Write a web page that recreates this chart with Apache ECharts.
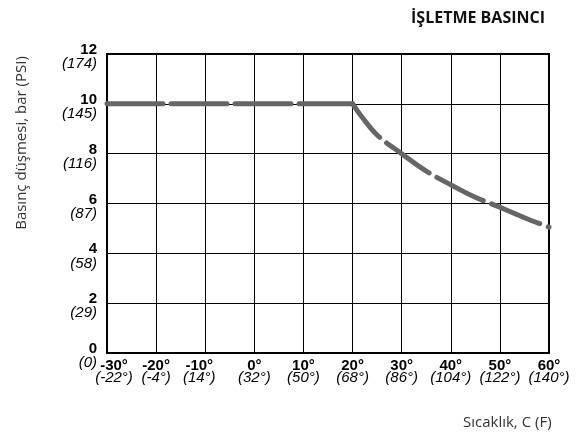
<!DOCTYPE html>
<html>
<head>
<meta charset="utf-8">
<script src="https://cdn.jsdelivr.net/npm/echarts@6/dist/echarts.min.js"></script>
<style>html,body{margin:0;padding:0;background:#fff}#c{width:587px;height:437px}</style>
</head>
<body>
<div id="c"></div>
<script>
var titleText = 'İŞLETME BASINCI';
var yAxisName = 'Basınç düşmesi, bar (PSI)';
var xAxisName = 'Sıcaklık, C (F)';
var xTicksC = [-30, -20, -10, 0, 10, 20, 30, 40, 50, 60];
var xTicksF = ['(-22°)', '(-4°)', '(14°)', '(32°)', '(50°)', '(68°)', '(86°)', '(104°)', '(122°)', '(140°)'];
var yTicksBar = [0, 2, 4, 6, 8, 10, 12];
var yTicksPsi = ['(0)', '(29)', '(58)', '(87)', '(116)', '(145)', '(174)'];
var flatTemps = [-30, 20];
var flatValues = [10, 10];
var curveTemps = [20, 22, 25, 30, 35, 40, 45, 50, 55, 60];
var curveValues = [10, 9.45, 8.75, 8.0, 7.3, 6.75, 6.25, 5.85, 5.43, 5.05];

function pairs(xs, ys) { return xs.map(function (x, i) { return [x, ys[i]]; }); }

var chart = echarts.init(document.getElementById('c'), null, {renderer: 'canvas'});
var tickFont = '"Liberation Sans", Arial, sans-serif';
function bold(extra) {
  var o = {fontFamily: tickFont, fontWeight: 'bold', fontSize: 15, color: '#000', lineHeight: 12};
  for (var k in extra) o[k] = extra[k];
  return o;
}
function ital(extra) {
  var o = {fontFamily: tickFont, fontStyle: 'italic', fontSize: 15, color: '#000', lineHeight: 12};
  for (var k in extra) o[k] = extra[k];
  return o;
}
chart.setOption({
  animation: false,
  backgroundColor: '#fff',
  title: {
    text: titleText, right: 37, top: 5,
    textStyle: {fontFamily: 'Open Sans', fontWeight: 'bold', fontSize: 16, color: '#111'}
  },
  grid: {left: 107, right: 38, top: 54, bottom: 84, show: true, borderColor: '#000', borderWidth: 2, backgroundColor: 'transparent'},
  xAxis: {
    type: 'value', min: -30, max: 60, interval: 10,
    axisLine: {show: false}, axisTick: {show: false},
    splitLine: {show: true, lineStyle: {color: '#000', width: 1}},
    axisLabel: {
      margin: 7,
      formatter: function (v) {
        var i = xTicksC.indexOf(v);
        var b = v + '°';
        var sfx = i === 0 ? '0' : (i === 2 ? '2' : '');
        return '{b' + sfx + '|' + b + '}\n{i' + sfx + '|' + xTicksF[i] + '}';
      },
      rich: {
        b: bold({}), i: ital({}),
        b0: bold({padding: [0, 0, 0, 14]}), i0: ital({padding: [0, 0, 0, 14]}),
        b2: bold({padding: [0, 12, 0, 0]}), i2: ital({padding: [0, 12, 0, 0]})
      }
    }
  },
  yAxis: {
    type: 'value', min: 0, max: 12, interval: 2,
    axisLine: {show: false}, axisTick: {show: false},
    splitLine: {show: true, lineStyle: {color: '#000', width: 1}},
    axisLabel: {
      margin: 10,
      padding: [6, 0, 0, 0],
      formatter: function (v) {
        var i = yTicksBar.indexOf(v);
        return '{b|' + v + '}\n{i|' + yTicksPsi[i] + '}';
      },
      rich: {
        b: bold({lineHeight: 14, align: 'right'}),
        i: ital({lineHeight: 14, align: 'right'})
      }
    }
  },
  graphic: [{
    type: 'text', x: 463, y: 423,
    style: {text: xAxisName, font: '15px "Open Sans"', fill: '#333', align: 'left', verticalAlign: 'middle'}
  }, {
    type: 'text', x: 22, y: 143, rotation: Math.PI / 2,
    style: {text: yAxisName, font: '15px "Open Sans"', fill: '#333', align: 'center', verticalAlign: 'middle'}
  }],
  series: [{
    type: 'line', data: pairs(flatTemps, flatValues), showSymbol: false, z: 5,
    lineStyle: {color: '#666', width: 5, type: [56, 8], cap: 'round'}
  }, {
    type: 'line', data: pairs(curveTemps, curveValues), showSymbol: false, smooth: 0.4, z: 5,
    lineStyle: {color: '#666', width: 5, type: [52, 9], dashOffset: 9, cap: 'round'}
  }]
});
</script>
</body>
</html>
